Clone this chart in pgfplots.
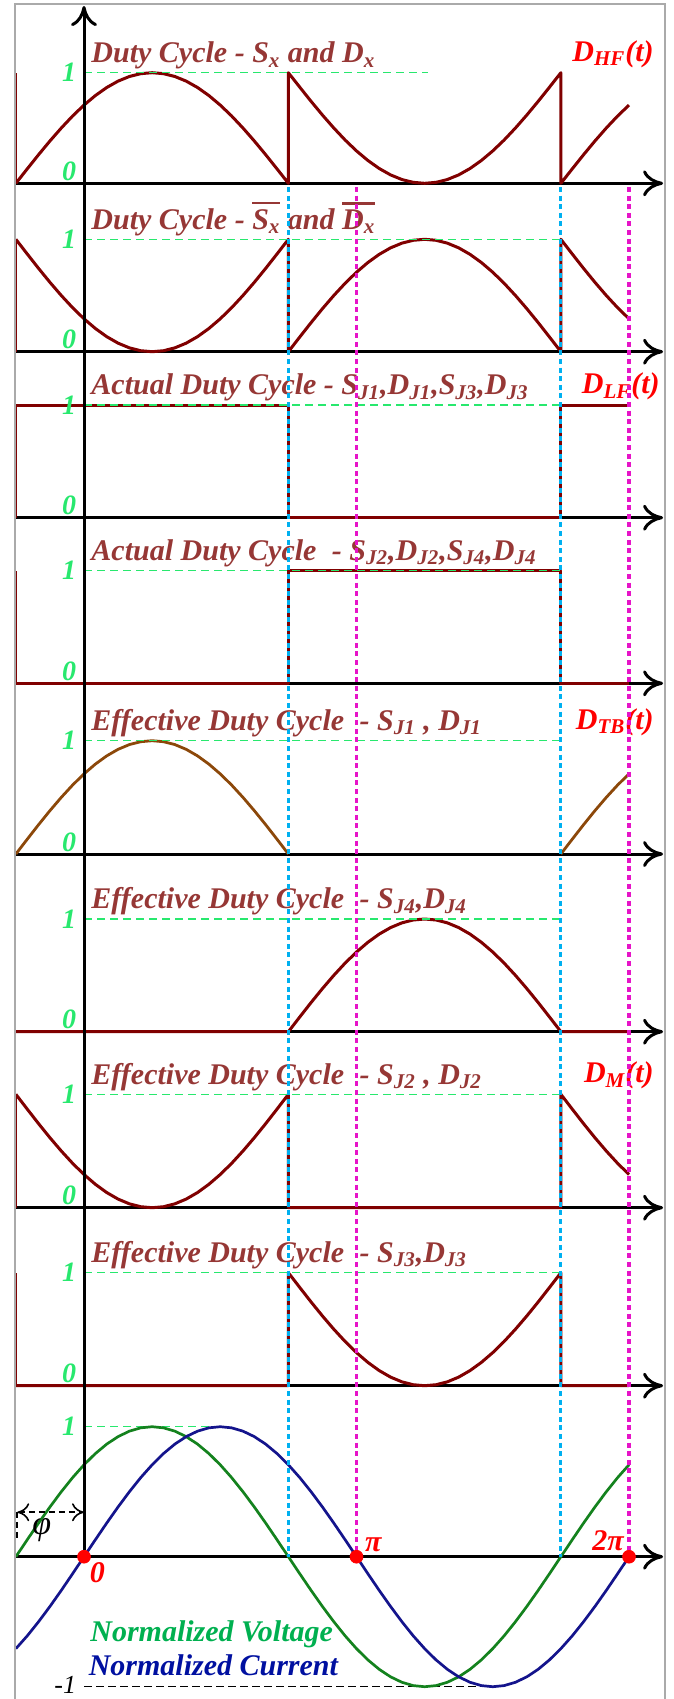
\documentclass[border=0pt]{standalone}
\usepackage{pgfplots}
\pgfplotsset{compat=1.18}
\usepackage{pgfplotstable}
\usetikzlibrary{arrows.meta}
\usepackage{fontspec}
\setmainfont{Liberation Serif}

\definecolor{ttl}{RGB}{150,55,53}
\definecolor{crv}{RGB}{128,0,0}
\definecolor{brn}{RGB}{140,72,10}
\definecolor{grn}{RGB}{40,232,110}
\definecolor{sky}{RGB}{0,176,240}
\definecolor{mag}{RGB}{230,20,200}
\definecolor{volt}{RGB}{20,130,30}
\definecolor{vtxt}{RGB}{0,176,80}
\definecolor{curr}{RGB}{20,20,140}
\definecolor{ctxt}{RGB}{0,16,160}
\definecolor{frm}{RGB}{170,170,170}

% x = theta/pi ; v = normalized voltage, c = normalized current
% hf = D_HF, hfb = complement, lf = D_LF, lfb = complement,
% tb = S_J1 (D_TB), sj4, sj2 (D_M), sj3 ; switching rows repeated at 0.75 and 1.75
\pgfplotstableread{
x v c hf hfb lf lfb tb sj4 sj2 sj3
-0.25 0 -0.7071 0 1 1 0 0 0 1 0
-0.2083 0.1305 -0.6088 0.1305 0.8695 1 0 0.1305 0 0.8695 0
-0.1667 0.2588 -0.5 0.2588 0.7412 1 0 0.2588 0 0.7412 0
-0.125 0.3827 -0.3827 0.3827 0.6173 1 0 0.3827 0 0.6173 0
-0.0833 0.5 -0.2588 0.5 0.5 1 0 0.5 0 0.5 0
-0.0417 0.6088 -0.1305 0.6088 0.3912 1 0 0.6088 0 0.3912 0
0 0.7071 0 0.7071 0.2929 1 0 0.7071 0 0.2929 0
0.0417 0.7934 0.1305 0.7934 0.2066 1 0 0.7934 0 0.2066 0
0.0833 0.8660 0.2588 0.8660 0.1340 1 0 0.8660 0 0.1340 0
0.125 0.9239 0.3827 0.9239 0.0761 1 0 0.9239 0 0.0761 0
0.1667 0.9659 0.5 0.9659 0.0341 1 0 0.9659 0 0.0341 0
0.2083 0.9914 0.6088 0.9914 0.0086 1 0 0.9914 0 0.0086 0
0.25 1 0.7071 1 0 1 0 1 0 0 0
0.2917 0.9914 0.7934 0.9914 0.0086 1 0 0.9914 0 0.0086 0
0.3333 0.9659 0.8660 0.9659 0.0341 1 0 0.9659 0 0.0341 0
0.375 0.9239 0.9239 0.9239 0.0761 1 0 0.9239 0 0.0761 0
0.4167 0.8660 0.9659 0.8660 0.1340 1 0 0.8660 0 0.1340 0
0.4583 0.7934 0.9914 0.7934 0.2066 1 0 0.7934 0 0.2066 0
0.5 0.7071 1 0.7071 0.2929 1 0 0.7071 0 0.2929 0
0.5417 0.6088 0.9914 0.6088 0.3912 1 0 0.6088 0 0.3912 0
0.5833 0.5 0.9659 0.5 0.5 1 0 0.5 0 0.5 0
0.625 0.3827 0.9239 0.3827 0.6173 1 0 0.3827 0 0.6173 0
0.6667 0.2588 0.8660 0.2588 0.7412 1 0 0.2588 0 0.7412 0
0.7083 0.1305 0.7934 0.1305 0.8695 1 0 0.1305 0 0.8695 0
0.75 0 0.7071 0 1 1 0 0 0 1 0
0.75 0 0.7071 1 0 0 1 nan 0 0 1
0.7917 -0.1305 0.6088 0.8695 0.1305 0 1 nan 0.1305 0 0.8695
0.8333 -0.2588 0.5 0.7412 0.2588 0 1 nan 0.2588 0 0.7412
0.875 -0.3827 0.3827 0.6173 0.3827 0 1 nan 0.3827 0 0.6173
0.9167 -0.5 0.2588 0.5 0.5 0 1 nan 0.5 0 0.5
0.9583 -0.6088 0.1305 0.3912 0.6088 0 1 nan 0.6088 0 0.3912
1 -0.7071 0 0.2929 0.7071 0 1 nan 0.7071 0 0.2929
1.0417 -0.7934 -0.1305 0.2066 0.7934 0 1 nan 0.7934 0 0.2066
1.0833 -0.8660 -0.2588 0.1340 0.8660 0 1 nan 0.8660 0 0.1340
1.125 -0.9239 -0.3827 0.0761 0.9239 0 1 nan 0.9239 0 0.0761
1.1667 -0.9659 -0.5 0.0341 0.9659 0 1 nan 0.9659 0 0.0341
1.2083 -0.9914 -0.6088 0.0086 0.9914 0 1 nan 0.9914 0 0.0086
1.25 -1 -0.7071 0 1 0 1 nan 1 0 0
1.2917 -0.9914 -0.7934 0.0086 0.9914 0 1 nan 0.9914 0 0.0086
1.3333 -0.9659 -0.8660 0.0341 0.9659 0 1 nan 0.9659 0 0.0341
1.375 -0.9239 -0.9239 0.0761 0.9239 0 1 nan 0.9239 0 0.0761
1.4167 -0.8660 -0.9659 0.1340 0.8660 0 1 nan 0.8660 0 0.1340
1.4583 -0.7934 -0.9914 0.2066 0.7934 0 1 nan 0.7934 0 0.2066
1.5 -0.7071 -1 0.2929 0.7071 0 1 nan 0.7071 0 0.2929
1.5417 -0.6088 -0.9914 0.3912 0.6088 0 1 nan 0.6088 0 0.3912
1.5833 -0.5 -0.9659 0.5 0.5 0 1 nan 0.5 0 0.5
1.625 -0.3827 -0.9239 0.6173 0.3827 0 1 nan 0.3827 0 0.6173
1.6667 -0.2588 -0.8660 0.7412 0.2588 0 1 nan 0.2588 0 0.7412
1.7083 -0.1305 -0.7934 0.8695 0.1305 0 1 nan 0.1305 0 0.8695
1.75 0 -0.7071 1 0 0 1 nan 0 0 1
1.75 0 -0.7071 0 1 1 0 0 0 1 0
1.7917 0.1305 -0.6088 0.1305 0.8695 1 0 0.1305 0 0.8695 0
1.8333 0.2588 -0.5 0.2588 0.7412 1 0 0.2588 0 0.7412 0
1.875 0.3827 -0.3827 0.3827 0.6173 1 0 0.3827 0 0.6173 0
1.9167 0.5 -0.2588 0.5 0.5 1 0 0.5 0 0.5 0
1.9583 0.6088 -0.1305 0.6088 0.3912 1 0 0.6088 0 0.3912 0
2 0.7071 0 0.7071 0.2929 1 0 0.7071 0 0.2929 0
}\wave

\newcommand\ttlfont{\fontsize{15}{18}\selectfont\bfseries\itshape}
\newcommand\tagfont{\fontsize{15}{18}\selectfont\bfseries\itshape}
\newcommand\lvlfont{\fontsize{14}{16}\selectfont\bfseries\itshape}
\newcommand\ptfont{\fontsize{15}{17}\selectfont\bfseries\itshape}
\newcommand\ovl[1]{\leavevmode\vbox{\hrule height 1.2pt\kern2.5pt\hbox{#1}}}
\newcommand\sub[1]{\textsubscript{#1}}

\tikzset{
  dtrace/.style={crv, line width=1.5pt, line join=round, mark=none},
  ledge/.style={crv, line width=1pt, mark=none},
  oneline/.style={grn, line width=0.7pt, dash pattern=on 4pt off 2.5pt, mark=none},
  ttlnode/.style={ttl, anchor=base west, inner sep=0pt, font=\ttlfont},
  tagnode/.style={red, anchor=base east, inner sep=0pt, font=\tagfont},
  lvlnode/.style={grn, inner sep=0pt, font=\lvlfont},
  switch/.style={line width=1.6pt, dash pattern=on 2.5pt off 1.8pt, mark=none},
  bigtip/.style={-{To[length=10pt,width=13pt]}},
}
\pgfplotsset{
  panel/.style={anchor=origin, x=136.25pt, clip=false,
    axis x line=middle, axis y line=none,
    xmin=-0.25, xmax=2.125, ymin=0, ymax=1,
    xtick=\empty, ytick=\empty,
    x axis line style={black, line width=1.5pt, bigtip}},
}

\begin{document}
\begin{tikzpicture}
\path[use as bounding box] (0pt,0pt) rectangle (337pt,-849.5pt);

% high-frequency duty cycle
\begin{axis}[panel, at={(42pt,-91.65pt)}, y=55.3pt]
  \addplot[dtrace] table[x=x,y=hf]{\wave};
  \addplot[ledge] coordinates {(-0.25,0) (-0.25,1)};
  \addplot[oneline] coordinates {(0,1) (1.262,1)};
  \node[ttlnode] at (0.026,1.09) {Duty Cycle - S\sub{x} and D\sub{x}};
  \node[tagnode] at (2.092,1.1) {D\sub{HF}(t)};
\end{axis}

% complementary high-frequency duty cycle
\begin{axis}[panel, at={(42pt,-175.85pt)}, y=56.2pt]
  \addplot[dtrace] table[x=x,y=hfb]{\wave};
  \addplot[ledge] coordinates {(-0.25,0) (-0.25,1)};
  \addplot[oneline] coordinates {(0,1) (1.75,1)};
  \node[ttlnode] at (0.026,1.09) {Duty Cycle - \ovl{S\sub{x}} and \ovl{D\sub{x}}};
\end{axis}

% low-frequency duty cycle
\begin{axis}[panel, at={(42pt,-258.85pt)}, y=56.35pt]
  \addplot[dtrace] table[x=x,y=lf]{\wave};
  \addplot[ledge] coordinates {(-0.25,0) (-0.25,1)};
  \addplot[oneline] coordinates {(0,1) (1.75,1)};
  \node[ttlnode] at (0.026,1.09) {Actual Duty Cycle - S\sub{J1},D\sub{J1},S\sub{J3},D\sub{J3}};
  \node[tagnode] at (2.114,1.1) {D\sub{LF}(t)};
\end{axis}

\begin{axis}[panel, at={(42pt,-341.65pt)}, y=56.3pt]
  \addplot[dtrace] table[x=x,y=lfb]{\wave};
  \addplot[ledge] coordinates {(-0.25,0) (-0.25,1)};
  \addplot[oneline] coordinates {(0,1) (1.75,1)};
  \node[ttlnode] at (0.026,1.09) {Actual Duty Cycle\hspace{4pt} - S\sub{J2},D\sub{J2},S\sub{J4},D\sub{J4}};
\end{axis}

% effective duty cycles
\begin{axis}[panel, at={(42pt,-427pt)}, y=56.65pt]
  \addplot[brn, line width=1.4pt, mark=none, unbounded coords=jump] table[x=x,y=tb]{\wave};
  \addplot[oneline] coordinates {(0,1) (1.75,1)};
  \node[ttlnode] at (0.026,1.09) {Effective Duty Cycle\hspace{4pt} - S\sub{J1} , D\sub{J1}};
  \node[tagnode] at (2.092,1.1) {D\sub{TB}(t)};
\end{axis}

\begin{axis}[panel, at={(42pt,-515.85pt)}, y=56.35pt]
  \addplot[dtrace] table[x=x,y=sj4]{\wave};
  \addplot[oneline] coordinates {(0,1) (1.75,1)};
  \node[ttlnode] at (0.026,1.09) {Effective Duty Cycle\hspace{4pt} - S\sub{J4},D\sub{J4}};
\end{axis}

\begin{axis}[panel, at={(42pt,-603.85pt)}, y=56.7pt]
  \addplot[dtrace] table[x=x,y=sj2]{\wave};
  \addplot[ledge] coordinates {(-0.25,0) (-0.25,1)};
  \addplot[oneline] coordinates {(0,1) (1.75,1)};
  \node[ttlnode] at (0.026,1.09) {Effective Duty Cycle\hspace{4pt} - S\sub{J2} , D\sub{J2}};
  \node[tagnode] at (2.092,1.1) {D\sub{M}(t)};
\end{axis}

\begin{axis}[panel, at={(42pt,-692.85pt)}, y=56.5pt]
  \addplot[dtrace] table[x=x,y=sj3]{\wave};
  \addplot[ledge] coordinates {(-0.25,0) (-0.25,1)};
  \addplot[oneline] coordinates {(0,1) (1.75,1)};
  \node[ttlnode] at (0.026,1.09) {Effective Duty Cycle\hspace{4pt} - S\sub{J3},D\sub{J3}};
\end{axis}

% normalized voltage and current
\begin{axis}[panel, at={(42pt,-778.35pt)}, y=65pt, ymin=-1, ymax=1]
  \addplot[oneline] coordinates {(0,1) (0.52,1)};
  \addplot[black, line width=0.7pt, dash pattern=on 4pt off 2pt, mark=none] coordinates {(0,-1) (1.508,-1)};
  \addplot[volt, line width=1.35pt, mark=none] table[x=x,y=v]{\wave};
  \addplot[curr, line width=1.35pt, mark=none] table[x=x,y=c]{\wave};
  \addplot[only marks, mark=*, mark size=3.2pt, red, mark options={draw=red, fill=red}] coordinates {(0,0) (1,0) (2,0)};
  \node[anchor=east, inner sep=0pt, font=\fontsize{13}{15}\selectfont\itshape] at (-0.0275,-0.985) {-1};
  \node[red, anchor=north west, inner sep=0pt, font=\ptfont] at (0.02,-0.04) {0};
  \node[red, anchor=base west, inner sep=0pt, font=\ptfont] at (1.03,0.04) {π};
  \node[red, anchor=base east, inner sep=0pt, font=\ptfont] at (1.982,0.046) {2π};
  \draw[black, line width=0.8pt, dash pattern=on 3pt off 2pt, {To[length=6pt,width=9pt]}-{To[length=6pt,width=9pt]}] (-0.245,0.342) -- (0,0.342);
  \draw[black, line width=0.8pt, dash pattern=on 3pt off 2pt] (-0.245,0.342) -- (-0.245,0.115);
  \node[inner sep=0pt, font=\fontsize{17}{19}\selectfont\itshape] at (-0.155,0.205) {φ};
  \node[vtxt, anchor=base west, inner sep=0pt, font=\ttlfont] at (0.022,-0.654) {Normalized Voltage};
  \node[ctxt, anchor=base west, inner sep=0pt, font=\ttlfont] at (0.016,-0.91) {Normalized Current};
\end{axis}

% common time axis, switching instants, level labels and frame (y in pixels from the top)
\begin{axis}[anchor=north west, at={(0pt,0pt)}, scale only axis, width=337pt, height=849.5pt,
    xmin=-0.308257, xmax=2.165138, ymin=0, ymax=1699, y dir=reverse, hide axis, clip=false]
  \addplot[frm, line width=0.8pt, mark=none] coordinates {(-0.2532,1699) (-0.2532,4) (2.1321,4) (2.1321,1699)};
  \addplot[sky, switch] coordinates {(0.75,187) (0.75,1556.7)};
  \addplot[sky, switch] coordinates {(1.75,187) (1.75,1556.7)};
  \addplot[mag, switch] coordinates {(1,187) (1,1550)};
  \addplot[mag, switch] coordinates {(2,187) (2,1550)};
  \addplot[black, line width=1.5pt, mark=none, bigtip] coordinates {(0,1550) (0,6)};
  % level labels 1 and 0 of each panel
  \node[lvlnode, anchor=east] at (-0.0275,72.7) {1};
  \node[lvlnode, anchor=base east] at (-0.0275,180.5) {0};
  \node[lvlnode, anchor=east] at (-0.0275,239.3) {1};
  \node[lvlnode, anchor=base east] at (-0.0275,348.9) {0};
  \node[lvlnode, anchor=east] at (-0.0275,405) {1};
  \node[lvlnode, anchor=base east] at (-0.0275,514.9) {0};
  \node[lvlnode, anchor=east] at (-0.0275,570.7) {1};
  \node[lvlnode, anchor=base east] at (-0.0275,680.5) {0};
  \node[lvlnode, anchor=east] at (-0.0275,740.7) {1};
  \node[lvlnode, anchor=base east] at (-0.0275,851.2) {0};
  \node[lvlnode, anchor=east] at (-0.0275,919) {1};
  \node[lvlnode, anchor=base east] at (-0.0275,1028.9) {0};
  \node[lvlnode, anchor=east] at (-0.0275,1094.3) {1};
  \node[lvlnode, anchor=base east] at (-0.0275,1204.9) {0};
  \node[lvlnode, anchor=east] at (-0.0275,1272.7) {1};
  \node[lvlnode, anchor=base east] at (-0.0275,1382.9) {0};
  \node[lvlnode, anchor=east] at (-0.0275,1426.7) {1};
\end{axis}
\end{tikzpicture}
\end{document}
